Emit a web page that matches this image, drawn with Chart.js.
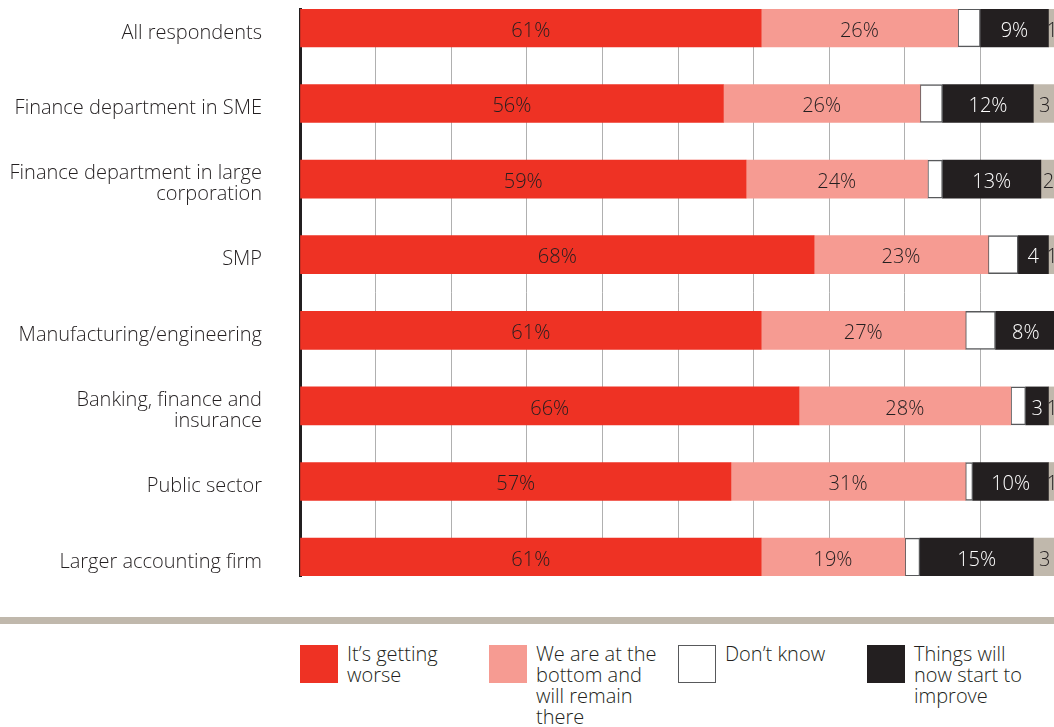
<!DOCTYPE html>
<html>
<head>
<meta charset="utf-8">
<script src="https://cdn.jsdelivr.net/npm/chart.js@4/dist/chart.umd.min.js"></script>
<style>
  html, body { margin: 0; padding: 0; background: #fff; overflow: hidden; }
  body { width: 1054px; height: 727px; position: relative; font-family: "Open Sans", "Liberation Sans", sans-serif; font-weight: 300; color: #231f20; }
  #wrap { position: absolute; left: 0; top: 0; width: 1056px; height: 600px; }
  canvas { display: block; }
  #rule { position: absolute; left: 0; top: 617px; width: 1054px; height: 7px; background: #c0b8ac; }
  .key { position: absolute; top: 645px; }
  .swatch { position: absolute; left: 0; top: 0; width: 38px; height: 38px; box-sizing: border-box; }
  .key-text { position: absolute; left: 47px; top: -2px; font-size: 20px; line-height: 21px; white-space: nowrap; }
</style>
</head>
<body>
<div id="wrap"><canvas id="c" width="1056" height="600"></canvas></div>
<div id="rule"></div>
<div id="legend"></div>
<script>
// Respondent groups (multi-line where the label wraps)
const categories = [
  "All respondents",
  "Finance department in SME",
  ["Finance department in large", "corporation"],
  "SMP",
  "Manufacturing/engineering",
  ["Banking, finance and", "insurance"],
  "Public sector",
  "Larger accounting firm"
];

// Share of respondents (%) for each answer
const gettingWorse   = [61, 56, 59, 68, 61, 66, 57, 61];
const atBottom       = [26, 26, 24, 23, 27, 28, 31, 19];
const dontKnow       = [3, 3, 2, 4, 4, 2, 1, 2];
const startToImprove = [9, 12, 13, 4, 8, 3, 10, 15];
const otherAnswer    = [1, 3, 2, 1, 0, 1, 1, 3];

// Legend texts (line breaks as printed)
const legendTexts = [
  ["It\u2019s getting", "worse"],
  ["We are at the", "bottom and", "will remain", "there"],
  ["Don\u2019t know"],
  ["Things will", "now start to", "improve"]
];

const INK = "#231f20";
const FONT_FAMILY = "'Open Sans', 'Liberation Sans', sans-serif";

function points(arr) { return arr.map((v, i) => ({ x: v, y: i })); }

const datasets = [
  { label: legendTexts[0].join(" "), data: points(gettingWorse), backgroundColor: "#ee3224", textColor: INK, showValues: true, inLegend: true },
  { label: legendTexts[1].join(" "), data: points(atBottom), backgroundColor: "#f69b92", textColor: INK, showValues: true, inLegend: true },
  { label: legendTexts[2].join(" "), data: points(dontKnow), backgroundColor: "#ffffff", borderColor: "#58595b", borderWidth: 1.5, borderSkipped: false, textColor: INK, showValues: false, inLegend: true },
  { label: legendTexts[3].join(" "), data: points(startToImprove), backgroundColor: "#231f20", textColor: "#ffffff", showValues: true, inLegend: true },
  { label: "Other", data: points(otherAnswer), backgroundColor: "#c0b8ac", textColor: INK, showValues: true, inLegend: false }
];
datasets.forEach(d => { d.barThickness = 38; });

// Writes each segment's value in the middle of the segment
const segmentValues = {
  id: "segmentValues",
  afterDatasetsDraw(chart) {
    const ctx = chart.ctx;
    ctx.save();
    ctx.font = "300 20px " + FONT_FAMILY;
    ctx.textAlign = "center";
    ctx.textBaseline = "middle";
    chart.data.datasets.forEach((ds, di) => {
      if (!ds.showValues) return;
      const meta = chart.getDatasetMeta(di);
      meta.data.forEach((bar, i) => {
        const v = ds.data[i].x;
        if (!v) return;
        const w = Math.abs(bar.x - bar.base);
        const txt = w >= 40 ? v + "%" : String(v);
        ctx.fillStyle = ds.textColor;
        ctx.fillText(txt, (bar.x + bar.base) / 2, bar.y + 3);
      });
    });
    ctx.restore();
  }
};

Chart.defaults.font.family = FONT_FAMILY;
Chart.defaults.font.weight = 300;
Chart.defaults.color = INK;

const chart = new Chart(document.getElementById("c"), {
  type: "bar",
  data: { datasets },
  options: {
    indexAxis: "y",
    responsive: false,
    animation: false,
    layout: { padding: { top: 9, bottom: 24, left: 0, right: 0 } },
    plugins: { legend: { display: false }, tooltip: { enabled: false } },
    scales: {
      x: {
        type: "linear",
        stacked: true,
        min: 0,
        max: 100,
        z: 1,
        ticks: { display: false, stepSize: 10 },
        border: { display: false },
        grid: { color: "rgba(150,150,150,0.75)", lineWidth: 1, drawTicks: false },
        afterFit(scale) { scale.height = 0; scale.paddingLeft = 0; scale.paddingRight = 0; }
      },
      y: {
        type: "linear",
        stacked: true,
        reverse: true,
        offset: false,
        min: -0.25,
        max: 7.25,
        z: 1,
        afterBuildTicks(scale) { scale.ticks = categories.map((_, i) => ({ value: i })); },
        ticks: {
          autoSkip: false,
          padding: 38,
          labelOffset: 5,
          color: INK,
          font: { size: 20, weight: 300, lineHeight: 1.05 },
          callback: (v) => categories[v]
        },
        grid: { display: false, drawTicks: false, offset: false },
        border: { display: true, color: INK, width: 3 },
        afterFit(scale) { scale.width = 300; scale.paddingTop = 0; scale.paddingBottom = 0; }
      }
    }
  },
  plugins: [segmentValues]
});

// Legend built from the chart's own datasets
const legend = document.getElementById("legend");
const keyLeft = [300, 489, 678, 867];
chart.data.datasets.filter(d => d.inLegend).forEach((d, i) => {
  const key = document.createElement("div");
  key.className = "key";
  key.style.left = keyLeft[i] + "px";
  const sw = document.createElement("div");
  sw.className = "swatch";
  sw.style.background = d.backgroundColor;
  if (d.borderColor) sw.style.border = "1.5px solid " + d.borderColor;
  const tx = document.createElement("div");
  tx.className = "key-text";
  legendTexts[i].forEach((line, k) => {
    if (k) tx.appendChild(document.createElement("br"));
    tx.appendChild(document.createTextNode(line));
  });
  key.appendChild(sw);
  key.appendChild(tx);
  legend.appendChild(key);
});
</script>
</body>
</html>
